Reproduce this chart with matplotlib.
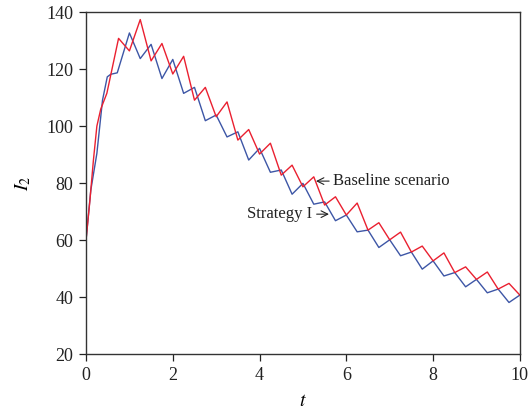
import matplotlib
matplotlib.use('Agg')
from matplotlib import pyplot as plt

# baseline scenario (red)
t_base = [0, 0.09, 0.17, 0.25, 0.34, 0.48, 0.75, 1.0, 1.25, 1.5, 1.75, 2.0, 2.25, 2.5, 2.75,
          3.0, 3.25, 3.5, 3.75, 4.0, 4.25, 4.5, 4.75, 5.0, 5.25, 5.5, 5.75, 6.0, 6.25, 6.5,
          6.75, 7.0, 7.25, 7.5, 7.75, 8.0, 8.25, 8.5, 8.75, 9.0, 9.25, 9.5, 9.75, 10.0]
i2_base = [60, 74, 88, 100, 106, 111.5, 130.8, 126.4, 137.4, 122.9, 129, 118.3, 124.5, 109.1, 113.6,
           103.3, 108.5, 95.1, 98.8, 90.2, 94.0, 82.8, 86.3, 78.7, 82.2, 72.3, 75.2, 68.8, 73, 63.5,
           66.1, 60.1, 62.8, 55.8, 57.9, 52.7, 55.5, 48.6, 50.6, 46.2, 48.8, 42.8, 44.8, 40.7]

# strategy I (blue)
t_strat = [0, 0.11, 0.25, 0.38, 0.49, 0.57, 0.72, 1.0, 1.25, 1.5, 1.75, 2.0, 2.25, 2.5, 2.75,
           3.0, 3.25, 3.5, 3.75, 4.0, 4.25, 4.5, 4.75, 5.0, 5.25, 5.5, 5.75, 6.0, 6.25, 6.5,
           6.75, 7.0, 7.25, 7.5, 7.75, 8.0, 8.25, 8.5, 8.75, 9.0, 9.25, 9.5, 9.75, 10.0]
i2_strat = [60, 77.5, 90.4, 109.1, 117.3, 118.2, 118.7, 132.7, 123.7, 128.7, 116.7, 123.4, 111.5, 113.6, 101.9,
            103.9, 96.2, 98, 88.1, 92.2, 83.8, 84.6, 76.1, 79.9, 72.6, 73.4, 66.8, 68.8, 62.9, 63.5,
            57.4, 60.1, 54.5, 55.8, 49.8, 52.7, 47.4, 48.6, 43.6, 46.2, 41.5, 42.8, 38.1, 40.7]

x_ticks = [0, 2, 4, 6, 8, 10]
y_ticks = [20, 40, 60, 80, 100, 120, 140]

plt.rcParams['font.family'] = ['Liberation Serif', 'DejaVu Serif']
plt.rcParams['mathtext.fontset'] = 'stix'

fig = plt.figure(figsize=(5.31, 4.19), dpi=100)
ax = fig.add_axes([0.162, 0.155, 0.817, 0.816])

ax.plot(t_strat, i2_strat, color='#3d56a6', lw=1.0)
ax.plot(t_base, i2_base, color='#ea2030', lw=1.0)

ax.set_xlim(0, 10)
ax.set_ylim(20, 140)
ax.set_xticks(x_ticks)
ax.set_yticks(y_ticks)
ax.tick_params(direction='out', length=5, width=0.9, labelsize=13, colors='#222222', pad=4)
for s in ax.spines.values():
    s.set_color('#333333')
    s.set_linewidth(1.0)

ax.set_xlabel('$t$', fontsize=14, labelpad=7)
ax.set_ylabel('$I_2$', fontsize=14, labelpad=10)

ax.annotate('Baseline scenario', xy=(5.30, 80.7), xytext=(5.70, 80.7), va='center', ha='left',
            fontsize=12, color='#222222',
            arrowprops=dict(arrowstyle='->', lw=0.8, color='#222222', shrinkA=1, shrinkB=0))
ax.annotate('Strategy I', xy=(5.60, 69.1), xytext=(5.22, 69.1), va='center', ha='right',
            fontsize=12, color='#222222',
            arrowprops=dict(arrowstyle='->', lw=0.8, color='#222222', shrinkA=1, shrinkB=0))

fig.savefig('out.png', dpi=100)
